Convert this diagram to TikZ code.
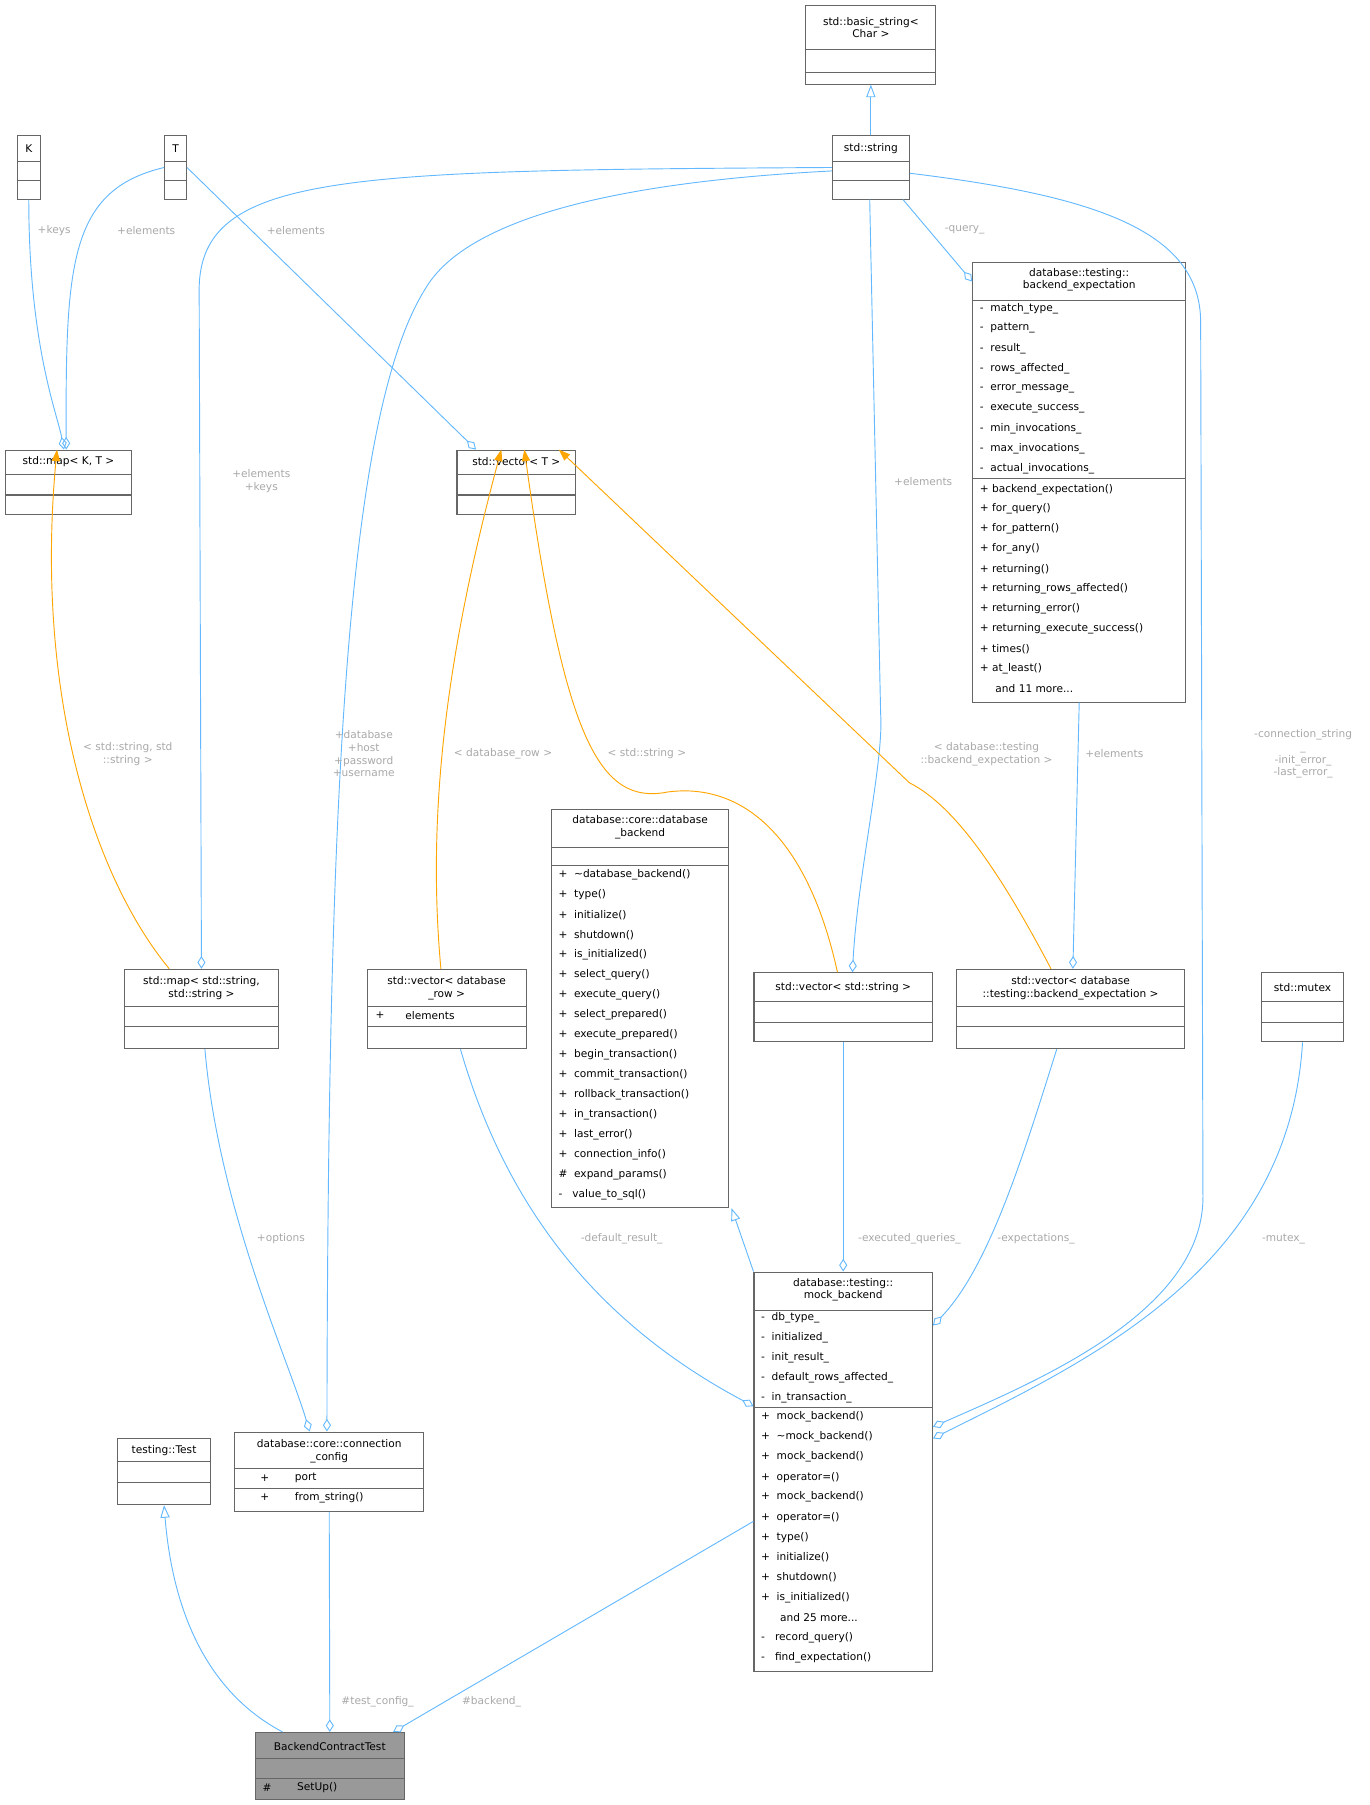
\documentclass[tikz,border=0pt]{standalone}
\usepackage{fontspec}
\setmainfont{DejaVu Sans}
\usetikzlibrary{arrows.meta,fit}
\definecolor{edge}{HTML}{63B8FF}
\definecolor{orng}{HTML}{FFA500}
\definecolor{lblc}{HTML}{A8A8A8}
\definecolor{boxc}{HTML}{666666}
\newcommand\mdots{...}
\newcommand\cls[6]{\node[draw=boxc,line width=0.9pt,inner sep=0,fit={(#2,#3)(#4,#5)},fill=#6] (#1) {};}
\newcommand\sep[3]{\draw[boxc,line width=0.9pt] (#1,#3) -- (#2,#3);}
\begin{document}
\begin{tikzpicture}[x=1pt,y=-1pt,font=\fontsize{9.2}{11}\selectfont,
  ttl/.style={align=center,inner sep=0},
  mem/.style={anchor=west,inner sep=0},
  lbl/.style={text=lblc,align=center,inner sep=1pt},
  ln/.style={draw=edge,line width=0.8pt},
  agg/.style={ln,-{Diamond[open,length=11pt,width=7pt]}},
  inh/.style={ln,-{Triangle[open,length=11pt,width=8pt]}},
  tpl/.style={draw=orng,line width=0.8pt,-{Triangle[length=10pt,width=7pt]}}]
\useasboundingbox (0,0) rectangle (1190,1568);
% boxes
\cls{bs}{700}{5}{813}{73}{white}\sep{700}{813}{43}\sep{700}{813}{63}
\node[ttl] (bst) at (756.5,24) {std::basic\_string<\\Char >};
\cls{str}{723}{118}{790}{173}{white}\sep{723}{790}{140}\sep{723}{790}{157}
\node[ttl] (strt) at (756.5,129) {std::string};
\cls{K}{15}{118}{35}{173}{white}\sep{15}{35}{140}\sep{15}{35}{157}
\node[ttl] (Kt) at (25,129) {K};
\cls{T}{143}{118}{162}{173}{white}\sep{143}{162}{140}\sep{143}{162}{157}
\node[ttl] (Tt) at (152.5,129) {T};
\cls{mkt}{5}{391}{114}{447}{white}\sep{5}{114}{412}\sep{5}{114}{430}
\node[ttl] (mktt) at (59.5,401) {std::map< K, T >};
\cls{vec}{397}{391}{500}{447}{white}\sep{397}{500}{412}\sep{397}{500}{430}
\node[ttl] (vect) at (448.5,401) {std::vector< T >};
% backend_expectation
\cls{be}{845}{228}{1030}{610}{white}\sep{845}{1030}{261}\sep{845}{1030}{416}
\node[ttl] (bet) at (937.5,243) {database::testing::\\backend\_expectation};
\foreach \t [count=\i] in {match\_type\_,pattern\_,result\_,rows\_affected\_,error\_message\_,execute\_success\_,min\_invocations\_,max\_invocations\_,actual\_invocations\_}
  \node[mem] at (851,{268+(\i-1)*17.35}) {-\ \ \t};
\foreach \t [count=\i] in {+\ backend\_expectation(),+\ for\_query(),+\ for\_pattern(),+\ for\_any(),+\ returning(),+\ returning\_rows\_affected(),+\ returning\_error(),+\ returning\_execute\_success(),+\ times(),+\ at\_least(),\phantom{+}\ \ and 11 more\mdots}
  \node[mem] at (851,{425+(\i-1)*17.35}) {\t};
% database_backend
\cls{dbb}{479}{703}{633}{1049}{white}\sep{479}{633}{736}\sep{479}{633}{752}
\node[ttl] (dbbt) at (556,718.5) {database::core::database\\\_backend};
\foreach \t [count=\i] in {+\ \ \textasciitilde database\_backend(),+\ \ type(),+\ \ initialize(),+\ \ shutdown(),+\ \ is\_initialized(),+\ \ select\_query(),+\ \ execute\_query(),+\ \ select\_prepared(),+\ \ execute\_prepared(),+\ \ begin\_transaction(),+\ \ commit\_transaction(),+\ \ rollback\_transaction(),+\ \ in\_transaction(),+\ \ last\_error(),+\ \ connection\_info(),\#\ \ expand\_params(),-\ \ \ value\_to\_sql()}
  \node[mem] at (485,{760+(\i-1)*17.35}) {\t};
% map<string,string>
\cls{mss}{108}{842}{242}{911}{white}\sep{108}{242}{874}\sep{108}{242}{892}
\node[ttl] (msst) at (175,858.5) {std::map< std::string,\\std::string >};
\cls{vdr}{319}{842}{457}{911}{white}\sep{319}{457}{874}\sep{319}{457}{892}
\node[ttl] (vdrt) at (388,858.5) {std::vector< database\\\_row >};
\node[mem] at (326,882) {+};\node[mem] at (352,882) {elements};
\cls{vs}{655}{845}{810}{905}{white}\sep{655}{810}{870}\sep{655}{810}{888}
\node[ttl] (vst) at (732.5,858) {std::vector< std::string >};
\cls{vbe}{831}{842}{1029}{911}{white}\sep{831}{1029}{874}\sep{831}{1029}{892}
\node[ttl] (vbet) at (930,858.5) {std::vector< database\\::testing::backend\_expectation >};
\cls{mtx}{1096}{845}{1167}{905}{white}\sep{1096}{1167}{870}\sep{1096}{1167}{888}
\node[ttl] (mtxt) at (1131.5,858) {std::mutex};
% mock_backend
\cls{mock}{655}{1105}{810}{1452}{white}\sep{655}{810}{1138}\sep{655}{810}{1223}
\node[ttl] (mockt) at (732.5,1120.5) {database::testing::\\mock\_backend};
\foreach \t [count=\i] in {db\_type\_,initialized\_,init\_result\_,default\_rows\_affected\_,in\_transaction\_}
  \node[mem] at (661,{1145+(\i-1)*17.35}) {-\ \ \t};
\foreach \t [count=\i] in {+\ \ mock\_backend(),+\ \ \textasciitilde mock\_backend(),+\ \ mock\_backend(),+\ \ operator=(),+\ \ mock\_backend(),+\ \ operator=(),+\ \ type(),+\ \ initialize(),+\ \ shutdown(),+\ \ is\_initialized(),\phantom{+}\ \ \ and 25 more\mdots,-\ \ \ record\_query(),-\ \ \ find\_expectation()}
  \node[mem] at (661,{1231+(\i-1)*17.4}) {\t};
% testing::Test
\cls{test}{102}{1250}{183}{1307}{white}\sep{102}{183}{1270}\sep{102}{183}{1288}
\node[ttl] (testt) at (142.5,1260) {testing::Test};
% connection_config
\cls{cc}{204}{1244}{368}{1313}{white}\sep{204}{368}{1276}\sep{204}{368}{1293}
\node[ttl] (cct) at (286,1260.5) {database::core::connection\\\_config};
\node[mem] at (226,1284) {+};\node[mem] at (256,1284) {port};
\node[mem] at (226,1301) {+};\node[mem] at (256,1301) {from\_string()};
% BackendContractTest
\cls{bct}{222}{1505}{351}{1563}{black!40}\sep{222}{351}{1528}\sep{222}{351}{1545}
\node[ttl] (bctt) at (286.5,1517) {BackendContractTest};
\node[mem] at (228,1553) {\#};\node[mem] at (258,1553) {SetUp()};
% edges
\draw[inh] (str.north) -- (bs.south);
\draw[agg] (K.south) .. controls (25,300) and (50,360) .. ([xshift=-4]mkt.north);
\draw[agg] (T.west) .. controls (60,165) and (57,230) .. ([xshift=-2]mkt.north);
\draw[agg] (T.east) -- ([xshift=-35]vec.north);
\draw[agg] (str.west) .. controls (300,148) and (175,150) .. (173,250) -- (mss.north);
\draw[agg] ([yshift=-3]str.west) .. controls (500,160) and (400,200) .. (370,250) .. controls (300,360) and (285,700) .. ([xshift=-2]cc.north);
\draw[agg] ([xshift=-1]str.south) -- (765,620) .. controls (768,660) and (745,760) .. ([xshift=8]vs.north);
\draw[agg] ([xshift=28]str.south) -- ([yshift=-17]be.north west);
\draw[agg] ([yshift=-5]str.east) .. controls (950,170) and (1043,200) .. (1043,280) -- (1045,1040) .. controls (1045,1140) and (900,1200) .. ([yshift=-135]mock.north east);
\draw[agg] (mtx.south) .. controls (1120,1100) and (950,1180) .. ([yshift=-145]mock.north east);
\draw[agg] ([xshift=-12]vbe.south) .. controls (890,1000) and (860,1100) .. ([yshift=-47]mock.north east);
\draw[agg] (vs.south) -- (mock.north);
\draw[inh] (mock.north west) -- ([xshift=2]dbb.south east);
\draw[agg] ([xshift=12]vdr.south) .. controls (440,1050) and (520,1150) .. ([yshift=-117]mock.north west);
\draw[agg] (be.south) -- ([xshift=2]vbe.north);
\draw[tpl] ([xshift=-28]mss.north) .. controls (80,760) and (30,600) .. ([xshift=-10]mkt.north);
\draw[tpl] ([xshift=-5]vdr.north) .. controls (370,700) and (390,560) .. ([xshift=-13]vec.north);
\draw[tpl] ([xshift=-5]vs.north) .. controls (700,720) and (640,680) .. (580,688) .. controls (520,700) and (490,640) .. ([xshift=7]vec.north);
\draw[tpl] ([xshift=-17]vbe.north) .. controls (870,760) and (830,700) .. (790,680) -- ([xshift=37]vec.north);
\draw[agg] ([xshift=3]mss.south) .. controls (190,1050) and (250,1180) .. ([xshift=-17]cc.north);
\draw[inh] ([xshift=-41]bct.north) .. controls (180,1470) and (150,1400) .. (test.south);
\draw[agg] (cc.south) -- (bct.north);
\draw[agg] ([yshift=-217]mock.north west) -- ([xshift=55]bct.north);
% labels
\node[lbl] (l1) at (47,200) {+keys};
\node[lbl] (l2) at (127,200) {+elements};
\node[lbl] (l3) at (257,200) {+elements};
\node[lbl] (l4) at (227,418) {+elements\\+keys};
\node[lbl] (l5) at (316,655) {+database\\+host\\+password\\+username};
\node[lbl] (l6) at (802,418) {+elements};
\node[lbl] (l7) at (838,200) {-query\_};
\node[lbl] (l8) at (1132,655) {-connection\_string\\\_\\-init\_error\_\\-last\_error\_};
\node[lbl] (l9) at (1115,1076) {-mutex\_};
\node[lbl] (l10) at (900,1076) {-expectations\_};
\node[lbl] (l11) at (790,1076) {-executed\_queries\_};
\node[lbl] (l12) at (540,1076) {-default\_result\_};
\node[lbl] (l13) at (968,655) {+elements};
\node[lbl] (l14) at (111,655) {< std::string, std\\::string >};
\node[lbl] (l15) at (437,655) {< database\_row >};
\node[lbl] (l16) at (562,655) {< std::string >};
\node[lbl] (l17) at (857,655) {< database::testing\\::backend\_expectation >};
\node[lbl] (l18) at (244,1076) {+options};
\node[lbl] (l19) at (328,1478) {\#test\_config\_};
\node[lbl] (l20) at (427,1478) {\#backend\_};
\end{tikzpicture}
\end{document}
